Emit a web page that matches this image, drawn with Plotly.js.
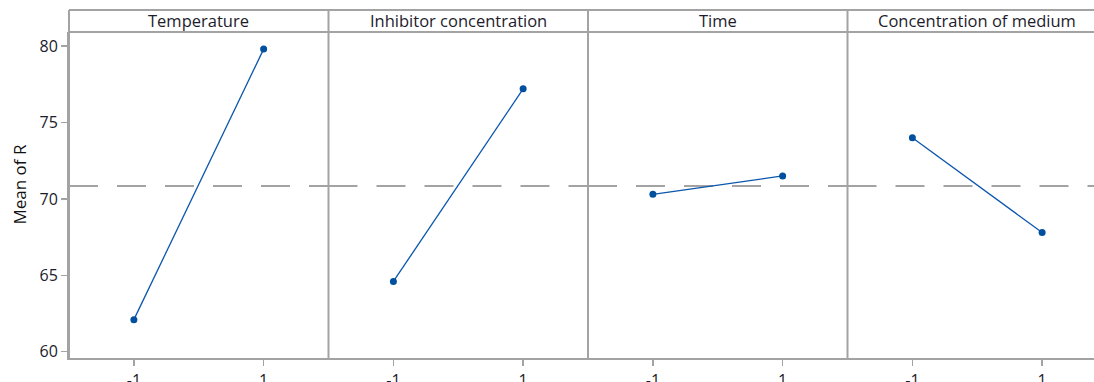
<!DOCTYPE html>
<html>
<head>
<meta charset="utf-8">
<script src="https://cdn.plot.ly/plotly-3.0.1.min.js"></script>
<style>
  html, body { margin: 0; padding: 0; overflow: hidden; background: #fff; }
  #chart { width: 1110px; height: 382px; }
</style>
</head>
<body>
<div id="chart"></div>
<script>
// Main effects plot for R: mean response at the low (-1) and high (1) level of each factor
const factors = ['Temperature', 'Inhibitor concentration', 'Time', 'Concentration of medium'];
const levels = [-1, 1];
const levelLabels = ['-1', '1'];
const meanTemperature = [62.1, 79.8];
const meanInhibitor = [64.6, 77.2];
const meanTime = [70.3, 71.5];
const meanMedium = [74.0, 67.8];
const grandMean = 70.85;
const yTicks = [60, 65, 70, 75, 80];

const seriesByFactor = [meanTemperature, meanInhibitor, meanTime, meanMedium];

const frame = '#a3a3a3';
const blue = '#0a56ac';
const textColor = '#1c1c2c';
const font = 'Open Sans, sans-serif';

const plotTop = 32, plotBottom = 358;
const stripH = 22 / (plotBottom - plotTop);
const xRange = [-2, 2];

const traces = [];
seriesByFactor.forEach((vals, i) => {
  const xa = i === 0 ? 'x' : 'x' + (i + 1);
  // grand mean reference line, restarted in every panel
  traces.push({
    x: xRange,
    y: [grandMean, grandMean],
    xaxis: xa, yaxis: 'y',
    type: 'scatter', mode: 'lines',
    line: { color: frame, width: 2, dash: '29px,19px' },
    hoverinfo: 'skip', showlegend: false
  });
  traces.push({
    x: levels,
    y: vals,
    xaxis: xa, yaxis: 'y',
    type: 'scatter',
    mode: 'lines+markers',
    line: { color: blue, width: 1.3 },
    marker: { color: '#00509f', size: 7, symbol: 'circle' },
    hoverinfo: 'x+y',
    showlegend: false
  });
});

const layout = {
  width: 1110,
  height: 382,
  margin: { l: 69, r: 3, t: plotTop, b: 382 - plotBottom },
  paper_bgcolor: '#fff',
  plot_bgcolor: '#fff',
  font: { family: font, size: 15, color: textColor },
  yaxis: {
    range: [59.59, 80.92],
    tickvals: yTicks,
    ticktext: yTicks.map(String),
    showgrid: false,
    zeroline: false,
    showline: true,
    linecolor: frame,
    linewidth: 2,
    ticks: 'outside',
    ticklen: 6,
    tickwidth: 1.5,
    tickcolor: frame,
    tickfont: { family: font, size: 16, color: textColor }
  },
  shapes: [],
  annotations: [{
    text: 'Mean of R', xref: 'paper', yref: 'paper',
    x: -69 / 1038, xanchor: 'left', xshift: 6,
    y: (plotBottom - 185) / (plotBottom - plotTop), yanchor: 'middle',
    textangle: -90, showarrow: false,
    font: { family: font, size: 17, color: '#111' }
  }]
};

factors.forEach((name, i) => {
  const key = i === 0 ? 'xaxis' : 'xaxis' + (i + 1);
  layout[key] = {
    domain: [i * 0.25, (i + 1) * 0.25],
    anchor: 'y',
    range: xRange,
    tickvals: levels,
    ticktext: levelLabels,
    showgrid: false,
    zeroline: false,
    showline: true,
    linecolor: frame,
    linewidth: 2,
    ticks: 'outside',
    ticklen: 6,
    tickwidth: 1.5,
    tickcolor: frame,
    ticklabelstandoff: 1,
    tickfont: { family: font, size: 16, color: textColor }
  };
  // panel separator running through the strip
  layout.shapes.push({
    type: 'line', xref: 'paper', yref: 'paper',
    x0: i * 0.25, x1: i * 0.25, y0: 0, y1: 1 + stripH,
    line: { color: frame, width: 2 }
  });
  layout.annotations.push({
    text: name, xref: 'paper', yref: 'paper',
    x: (i + 0.5) * 0.25, y: 1 + stripH / 2,
    xanchor: 'center', yanchor: 'middle', showarrow: false,
    font: { family: font, size: 16.5, color: textColor }
  });
});

// strip header box
layout.shapes.push({
  type: 'line', xref: 'paper', yref: 'paper',
  x0: 0, x1: 1, y0: 1 + stripH, y1: 1 + stripH,
  line: { color: frame, width: 2 }
});
layout.shapes.push({
  type: 'line', xref: 'paper', yref: 'paper',
  x0: 0, x1: 1, y0: 1, y1: 1,
  line: { color: frame, width: 2 }
});

Plotly.newPlot('chart', traces, layout, { displayModeBar: false, staticPlot: true });
</script>
</body>
</html>
